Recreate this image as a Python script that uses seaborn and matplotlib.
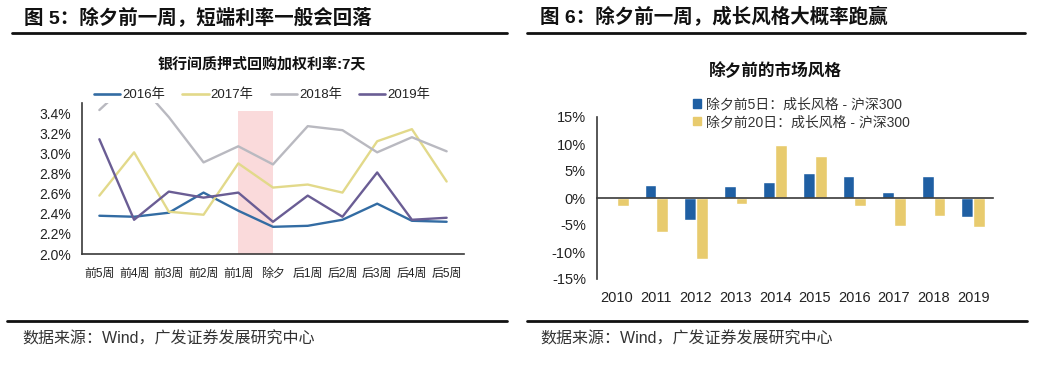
import numpy as np
import pandas as pd
import matplotlib
matplotlib.use("Agg")
import matplotlib.pyplot as plt
import seaborn as sns
from matplotlib.lines import Line2D
from matplotlib.patches import Rectangle
from matplotlib.ticker import FuncFormatter, FixedLocator

# ---------------- data ----------------
weeks = ["前5周", "前4周", "前3周", "前2周", "前1周", "除夕", "后1周", "后2周", "后3周", "后4周", "后5周"]
rate_2016 = [2.38, 2.37, 2.41, 2.61, 2.43, 2.27, 2.28, 2.34, 2.50, 2.33, 2.32]
rate_2017 = [2.58, 3.01, 2.42, 2.39, 2.90, 2.66, 2.69, 2.61, 3.12, 3.24, 2.72]
rate_2018 = [3.43, 3.75, 3.36, 2.91, 3.07, 2.89, 3.27, 3.23, 3.01, 3.16, 3.02]
rate_2019 = [3.14, 2.34, 2.62, 2.56, 2.61, 2.32, 2.58, 2.37, 2.81, 2.34, 2.36]
line_years = ["2016年", "2017年", "2018年", "2019年"]
highlight_weeks = ["前1周", "除夕"]
highlight_top = 3.42

years = ["2010", "2011", "2012", "2013", "2014", "2015", "2016", "2017", "2018", "2019"]
style_5d = [-0.1, 2.5, -4.0, 2.3, 2.9, 4.6, 4.0, 1.1, 4.0, -3.5]
style_20d = [-1.5, -6.3, -11.3, -1.2, 9.8, 7.8, -1.5, -5.2, -3.3, -5.4]
bar_series = ["除夕前5日：成长风格 - 沪深300", "除夕前20日：成长风格 - 沪深300"]

title_left = "图 5：除夕前一周，短端利率一般会回落"
title_right = "图 6：除夕前一周，成长风格大概率跑赢"
sub_left = "银行间质押式回购加权利率:7天"
sub_right = "除夕前的市场风格"
source = "数据来源：Wind，广发证券发展研究中心"

# ---------------- style ----------------
sns.set_theme(style="white")
plt.rcParams["font.family"] = ["Liberation Sans", "Noto Sans CJK SC"]
plt.rcParams["axes.unicode_minus"] = False

W, H = 1042, 367
fig = plt.figure(figsize=(W / 100, H / 100), dpi=100)
fig.patch.set_facecolor("white")

def fx(px):
    return px / W

def fy(py):
    return 1 - py / H

spine_col = "#3a3a3a"
text_col = "#222222"

# ---------------- left chart ----------------
axL = fig.add_axes([fx(82), fy(254), fx(464 - 82), (254 - 103) / H])
dfL = pd.DataFrame({
    "x": list(range(len(weeks))) * 4,
    "rate": rate_2016 + rate_2017 + rate_2018 + rate_2019,
    "year": sum([[y] * len(weeks) for y in line_years], []),
})
line_colors = ["#336ca3", "#e2d98a", "#b9b9c0", "#6a5d94"]
i0 = weeks.index(highlight_weeks[0])
i1 = weeks.index(highlight_weeks[1])
axL.fill_between([i0, i1], [2.0, 2.0], [highlight_top, highlight_top],
                 color="#fadadb", lw=0, zorder=0)
sns.lineplot(data=dfL, x="x", y="rate", hue="year", palette=line_colors,
             linewidth=1.7, ax=axL, legend=False, zorder=3)
axL.set_xlim(-0.5, len(weeks) - 0.5)
axL.set_ylim(2.0, 3.5)
axL.set_yticks(np.arange(2.0, 3.41, 0.2))
axL.yaxis.set_major_formatter(FuncFormatter(lambda v, p: f"{v:.1f}%"))
axL.set_xticks(range(len(weeks)))
axL.set_xticklabels(weeks)
axL.xaxis.set_minor_locator(FixedLocator(np.arange(-0.5, len(weeks), 1.0)))
axL.tick_params(axis="x", which="major", length=0, pad=10, labelsize=8.6, colors=text_col)
axL.tick_params(axis="x", which="minor", length=4, width=1.1, direction="out", color=spine_col)
axL.tick_params(axis="y", which="major", length=4, width=1.1, direction="out",
                color=spine_col, labelsize=10, colors=text_col, pad=4)
for s in ["top", "right"]:
    axL.spines[s].set_visible(False)
for s in ["left", "bottom"]:
    axL.spines[s].set_color(spine_col)
    axL.spines[s].set_linewidth(1.2)
axL.set_xlabel("")
axL.set_ylabel("")
handlesL = [Line2D([0], [0], color=c, lw=1.9) for c in line_colors]
fig.legend(handlesL, line_years, loc="center", bbox_to_anchor=(fx(262), fy(95)),
           ncol=4, frameon=False, fontsize=9.5, handlelength=2.0, handletextpad=0.15,
           columnspacing=1.3, labelcolor=text_col)

# ---------------- right chart ----------------
axR = fig.add_axes([fx(597), fy(279), fx(993 - 597), (279 - 117) / H])
dfR = pd.DataFrame({
    "year": years * 2,
    "value": style_5d + style_20d,
    "series": [bar_series[0]] * len(years) + [bar_series[1]] * len(years),
})
bar_colors = ["#1f5fa3", "#e8cb6e"]
sns.barplot(data=dfR, x="year", y="value", hue="series", palette=bar_colors,
            width=0.6, saturation=1, ax=axR, legend=False, zorder=2)
axR.set_xlim(-0.5, len(years) - 0.5)
axR.set_ylim(-15, 15)
axR.set_yticks(np.arange(-15, 16, 5))
axR.yaxis.set_major_formatter(FuncFormatter(lambda v, p: f"{v:.0f}%"))
axR.tick_params(axis="y", which="major", length=4, width=1.1, direction="out",
                color=spine_col, labelsize=10.5, colors=text_col, pad=4)
for s in ["top", "right"]:
    axR.spines[s].set_visible(False)
axR.spines["left"].set_color(spine_col)
axR.spines["left"].set_linewidth(1.2)
axR.spines["bottom"].set_position(("data", 0))
axR.spines["bottom"].set_color(spine_col)
axR.spines["bottom"].set_linewidth(1.2)
axR.set_xticks(range(len(years)))
axR.set_xticklabels([])
axR.xaxis.set_minor_locator(FixedLocator(np.arange(-0.5, len(years), 1.0)))
axR.tick_params(axis="x", which="major", length=0)
axR.tick_params(axis="x", which="minor", length=4, width=1.1, direction="out", color=spine_col)
axR.set_xlabel("")
axR.set_ylabel("")
sec = axR.secondary_xaxis(0.0)
sec.set_xticks(range(len(years)))
sec.set_xticklabels(years)
sec.tick_params(length=0, pad=9, labelsize=10.5, colors=text_col)
sec.spines["bottom"].set_visible(False)

handlesR = [Rectangle((0, 0), 1, 1, color=c) for c in bar_colors]
fig.legend(handlesR, bar_series, loc="upper left", bbox_to_anchor=(fx(680), fy(85)),
           ncol=1, frameon=False, fontsize=10, handlelength=0.6, handleheight=0.6,
           handletextpad=0.4, labelspacing=0.25, labelcolor="#333333")

# ---------------- titles, rules, sources ----------------
fig.text(fx(24), fy(17), title_left, fontsize=14, fontweight="bold", color="#111111",
         va="center", ha="left")
fig.text(fx(540), fy(17), title_right, fontsize=14, fontweight="bold", color="#111111",
         va="center", ha="left")
fig.text(fx(262), fy(64), sub_left, fontsize=10.8, fontweight="bold", color="#111111",
         va="center", ha="center")
fig.text(fx(775), fy(70), sub_right, fontsize=12, fontweight="bold", color="#111111",
         va="center", ha="center")
fig.add_artist(Line2D([fx(12), fx(507)], [fy(33), fy(33)], color="#111111", lw=2))
fig.add_artist(Line2D([fx(527), fx(1025)], [fy(33), fy(33)], color="#111111", lw=2))
fig.add_artist(Line2D([fx(7), fx(507)], [fy(321), fy(321)], color="#111111", lw=2))
fig.add_artist(Line2D([fx(527), fx(1027)], [fy(321), fy(321)], color="#111111", lw=2))
fig.text(fx(22), fy(339), source, fontsize=11.5, color="#333333", va="center", ha="left")
fig.text(fx(540), fy(339), source, fontsize=11.5, color="#333333", va="center", ha="left")

fig.savefig("out.png", dpi=100, facecolor="white")
